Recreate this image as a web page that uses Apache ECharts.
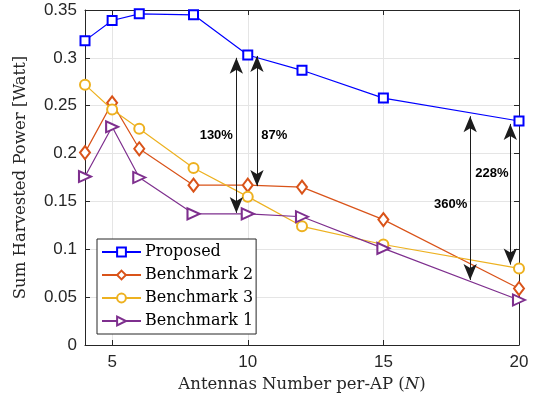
<!DOCTYPE html>
<html><head><meta charset="utf-8">
<script src="https://cdn.jsdelivr.net/npm/echarts@6/dist/echarts.min.js"></script>
<style>html,body{margin:0;padding:0;background:#fff}#c{width:536px;height:401px}</style>
</head><body><div id="c"></div>
<script>
const antennas = [4, 5, 6, 8, 10, 12, 15, 20];
const proposed = [0.318, 0.339, 0.346, 0.345, 0.303, 0.287, 0.258, 0.234];
const bench2   = [0.201, 0.253, 0.205, 0.167, 0.167, 0.165, 0.131, 0.059];
const bench3   = [0.272, 0.246, 0.226, 0.185, 0.155, 0.124, 0.105, 0.080];
const bench1   = [0.176, 0.228, 0.175, 0.137, 0.137, 0.134, 0.101, 0.047];
const xTicks = [5, 10, 15, 20];
// annotation arrows: [x, yTop, yBottom]
const arrows = [[9.58, 0.300, 0.138], [10.34, 0.302, 0.166], [18.2, 0.239, 0.068], [19.68, 0.231, 0.084]];
const arrowLabels = [['130%', 8.84, 0.2185], ['87%', 10.98, 0.2185], ['360%', 17.48, 0.1465], ['228%', 19.0, 0.1795]];

const pair = ys => antennas.map((x, i) => [x, ys[i]]);
const serif = 'DejaVu Serif';
const sans = 'Liberation Sans';
const axisCol = '#262626';
const colors = {'Proposed': '#0000FF', 'Benchmark 2': '#D95319', 'Benchmark 3': '#EDB120', 'Benchmark 1': '#7E2F8E'};

function mk(name, ys, symbol, size, rot) {
  const color = colors[name];
  return {
    name, type: 'line', data: pair(ys), symbol, symbolSize: size, symbolRotate: rot || 0,
    showAllSymbol: true,
    lineStyle: {color, width: 1.2}, itemStyle: {color, borderColor: color, borderWidth: 1.2},
    emphasis: {disabled: true}, animation: false, z: 3
  };
}

const series = [
  mk('Proposed', proposed, 'emptyRect', 9),
  mk('Benchmark 2', bench2, 'emptyDiamond', [10, 13]),
  mk('Benchmark 3', bench3, 'emptyCircle', 10),
  mk('Benchmark 1', bench1, 'emptyTriangle', [11, 12], -90),
  {
    type: 'line', data: [], silent: true, animation: false, z: 4,
    markLine: {
      silent: true, animation: false,
      symbol: ['arrow', 'arrow'], symbolSize: [10, 16],
      lineStyle: {color: '#1c1c1c', width: 1, type: 'solid'},
      label: {show: false},
      data: arrows.map(a => [{coord: [a[0], a[1]]}, {coord: [a[0], a[2]]}])
    }
  },
  {
    type: 'scatter', silent: true, animation: false, z: 5, symbolSize: 0.1,
    itemStyle: {color: '#000', opacity: 1},
    data: arrowLabels.map(l => ({value: [l[1], l[2]], name: l[0]})),
    label: {show: true, position: 'inside', fontFamily: sans, fontWeight: 'bold', fontSize: 13, color: '#000',
      opacity: 1, textBorderWidth: 0, formatter: p => p.name}
  }
];

const legendNames = ['Proposed', 'Benchmark 2', 'Benchmark 3', 'Benchmark 1'];
const chart = echarts.init(document.getElementById('c'));
chart.setOption({
  animation: false,
  backgroundColor: '#fff',
  grid: {left: 85, right: 17, top: 10, bottom: 56, containLabel: false},
  legend: {
    data: legendNames,
    orient: 'vertical', left: 97, top: 239,
    backgroundColor: '#fff', borderColor: axisCol, borderWidth: 1,
    padding: [5, 3, 5, 4], itemGap: 7, itemWidth: 39, itemHeight: 11,
    textStyle: {fontFamily: serif, fontSize: 16, color: '#000', padding: [0, 0, 0, -1]},
    selectedMode: false
  },
  xAxis: [{
    type: 'value', min: 4, max: 20,
    name: 'Antennas Number per-AP ({i|N})', nameLocation: 'middle', nameGap: 30,
    nameTextStyle: {fontFamily: serif, fontSize: 16.5, color: axisCol,
      rich: {i: {fontFamily: serif, fontStyle: 'italic', fontSize: 16.5, color: axisCol}}},
    axisLine: {show: true, onZero: false, lineStyle: {color: axisCol, width: 1}},
    axisTick: {show: true, inside: true, length: 5, customValues: xTicks, lineStyle: {color: axisCol}},
    axisLabel: {customValues: xTicks, fontFamily: sans, fontSize: 17, color: axisCol, margin: 9},
    splitLine: {show: true, lineStyle: {color: '#e5e5e5', width: 1}}
  }, {
    type: 'value', min: 4, max: 20, position: 'top',
    axisLine: {show: true, onZero: false, lineStyle: {color: axisCol, width: 1}},
    axisTick: {show: true, inside: true, length: 5, customValues: xTicks, lineStyle: {color: axisCol}},
    axisLabel: {show: false}, splitLine: {show: false}
  }],
  yAxis: [{
    type: 'value', min: 0, max: 0.35, interval: 0.05,
    name: 'Sum Harvested Power [Watt]', nameLocation: 'middle', nameGap: 56,
    nameTextStyle: {fontFamily: serif, fontSize: 16.5, color: axisCol},
    axisLine: {show: true, onZero: false, lineStyle: {color: axisCol, width: 1}},
    axisTick: {show: true, inside: true, length: 5, lineStyle: {color: axisCol}},
    axisLabel: {fontFamily: sans, fontSize: 17, color: axisCol, margin: 8},
    splitLine: {show: true, lineStyle: {color: '#e5e5e5', width: 1}}
  }, {
    type: 'value', min: 0, max: 0.35, interval: 0.05, position: 'right',
    axisLine: {show: true, onZero: false, lineStyle: {color: axisCol, width: 1}},
    axisTick: {show: true, inside: true, length: 5, lineStyle: {color: axisCol}},
    axisLabel: {show: false}, splitLine: {show: false}
  }],
  series
});
</script></body></html>
